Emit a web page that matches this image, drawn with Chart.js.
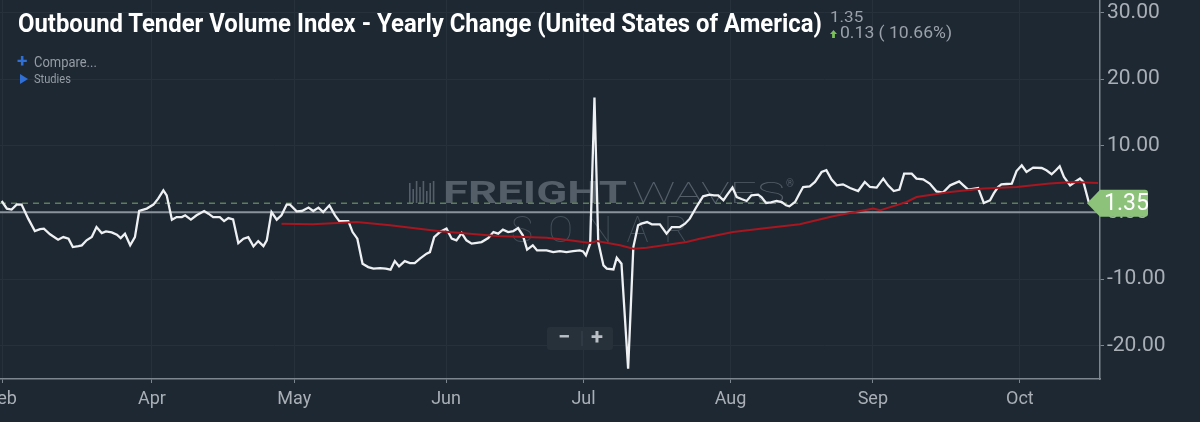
<!DOCTYPE html>
<html>
<head>
<meta charset="utf-8">
<script src="https://cdn.jsdelivr.net/npm/chart.js@4.4.0/dist/chart.umd.min.js"></script>
<style>
  html, body { margin: 0; padding: 0; background: #1d2833; overflow: hidden; }
  #wrap { position: relative; width: 1200px; height: 422px; }
  #wrap canvas { position: absolute; left: 0; top: 0; }
  .txt { position: absolute; white-space: nowrap; transform-origin: 0 0; font-family: Roboto, sans-serif; z-index: 2; }
  #title { left: 18px; top: 9.6px; font-size: 26px; line-height: 26px; font-weight: bold; color: #ffffff; }
  #last { left: 830px; top: 9.7px; font-size: 15px; line-height: 15px; color: #9aa1a8; }
  #chg { left: 840px; top: 25.2px; font-size: 16px; line-height: 16px; color: #9aa1a8; }
  #arrow { position: absolute; left: 830px; top: 30px; width: 7px; height: 8px; background: #7cc05a; z-index: 2;
           clip-path: polygon(50% 0, 100% 50%, 70% 50%, 70% 100%, 30% 100%, 30% 50%, 0 50%); }
  #plus { left: 17px; top: 52px; font-size: 19px; line-height: 18px; font-weight: bold; color: #2f6fd6; }
  #compare { left: 34px; top: 54.7px; font-size: 15px; line-height: 15px; color: #959ca3; }
  #tri { position: absolute; left: 20px; top: 74px; width: 8px; height: 10px; background: #2f6fd6; z-index: 2;
         clip-path: polygon(0 0, 100% 50%, 0 100%); }
  #studies { left: 34px; top: 73.4px; font-size: 12px; line-height: 12px; color: #959ca3; }
</style>
</head>
<body>
<div id="wrap">
  <canvas id="grafico" width="1200" height="422"></canvas>
  <div class="txt" id="title">Outbound Tender Volume Index - Yearly Change (United States of America)</div>
  <div class="txt" id="last"></div>
  <div id="arrow"></div>
  <div class="txt" id="chg"></div>
  <div class="txt" id="plus">+</div>
  <div class="txt" id="compare">Compare...</div>
  <div id="tri"></div>
  <div class="txt" id="studies">Studies</div>
</div>
<script>
// day of year for each reading, and the yearly change (%)
const days = [59.3,60.4,61.4,62.5,63.5,64.9,66.3,67.4,68.2,69.5,
  71.2,72.3,73.4,74.3,75.5,76.2,77.2,78.3,79.3,80.4,
  81.3,82.5,83.6,84.4,85.3,86.4,87.4,88.3,89.9,91.3,
  92.3,93.4,94.1,95.2,96.2,97.3,98.0,99.2,100.4,102.0,
  102.9,103.9,105.3,106.2,107.1,108.1,109.2,110.3,111.3,112.4,
  113.4,114.5,115.2,116.2,117.3,118.3,119.4,120.1,121.5,122.6,
  124.0,125.0,126.1,127.1,128.4,129.6,130.5,132.4,133.3,134.3,
  135.4,136.6,137.7,139.1,140.3,141.3,142.2,143.1,144.3,145.4,
  146.4,147.5,148.9,149.6,150.5,151.7,153.1,154.2,155.2,156.3,
  157.3,158.4,159.5,160.5,161.9,163.0,164.0,165.0,166.1,167.2,
  168.2,169.2,170.1,171.3,172.2,173.2,174.2,175.6,177.0,178.4,
  179.8,181.2,181.9,182.5,183.4,184.3,185.1,186.2,186.9,188.3,
  189.0,190.0,191.4,192.5,193.5,194.2,195.4,196.4,197.3,198.1,
  199.5,200.6,201.5,202.3,203.4,204.4,205.8,207.2,208.6,209.5,
  210.4,211.5,212.2,213.4,214.3,215.3,216.4,217.4,218.8,219.5,
  220.5,221.5,222.7,223.8,224.7,225.4,226.6,227.6,228.3,229.7,
  230.8,232.2,233.2,234.3,235.4,236.7,238.2,239.9,241.3,242.4,
  243.8,245.2,246.2,247.4,248.6,249.6,251.2,252.2,253.6,255.0,
  256.4,257.8,259.3,261.2,262.1,263.1,264.1,265.2,266.4,267.7,
  268.5,269.4,270.1,271.2,272.3,273.3,274.4,275.4,276.8,278.6,
  279.6,280.7,281.6,282.4,283.3,284.6,285.6,286.7,287.4,288.6];
const yoyValues = [1.70,0.56,0.41,1.20,1.16,-0.95,-2.81,-2.51,-2.45,-3.30,
  -4.10,-3.71,-3.95,-5.21,-5.06,-4.95,-4.20,-3.71,-2.21,-3.11,
  -2.85,-3.00,-3.35,-3.86,-3.20,-4.95,-3.71,0.20,0.56,1.16,
  2.06,3.30,2.55,-1.10,-0.71,-0.71,-0.45,-1.10,-0.45,0.20,
  -0.20,-0.71,-0.71,-1.31,-0.86,-1.05,-4.61,-3.95,-3.71,-5.11,
  -4.31,-5.06,-4.20,0.05,-1.10,-0.45,1.16,1.16,0.15,0.20,
  0.71,0.20,0.71,0.05,1.05,-0.45,-1.31,-1.31,-2.96,-3.95,
  -7.70,-8.21,-8.45,-8.36,-8.45,-8.60,-7.31,-8.11,-7.31,-7.61,
  -7.61,-6.95,-6.20,-5.96,-3.71,-2.96,-2.45,-3.95,-4.20,-3.11,
  -4.20,-4.70,-4.58,-4.46,-3.86,-2.96,-3.20,-2.60,-2.96,-2.81,
  -2.36,-3.45,-5.60,-4.95,-5.71,-5.71,-5.71,-5.96,-5.81,-5.96,
  -5.81,-5.71,-5.86,-6.46,-4.70,17.22,-4.46,-7.96,-8.45,-8.56,
  -6.80,-7.70,-23.47,-5.21,-1.95,-1.70,-1.46,-1.80,-1.80,-1.80,
  -3.20,-2.21,-2.21,-2.21,-1.70,-0.95,0.80,2.40,2.66,2.55,
  2.55,1.80,2.55,3.71,2.30,2.00,1.70,2.55,2.66,2.30,
  1.40,1.50,1.70,1.55,1.05,0.90,1.55,2.90,3.80,3.90,
  4.55,6.05,6.31,4.91,4.05,4.20,3.65,3.20,4.55,3.80,
  3.71,5.06,4.05,3.20,3.41,5.81,5.81,5.06,4.95,4.31,
  3.15,2.96,4.05,4.65,4.05,3.41,3.53,3.65,1.40,1.80,
  2.85,3.80,4.20,4.25,4.31,6.20,7.06,6.05,6.71,6.65,
  6.31,5.71,6.31,6.91,5.30,4.05,4.55,5.06,4.55,1.35];

// moving average (red)
const maDays = [118.3,124.9,134.2,141.2,151.7,163.7,174.2,179.1,183.4,184.8,
  189.7,192.5,195.3,203.7,206.5,213.5,220.6,227.6,234.6,243.1,
  244.5,250.1,252.2,259.3,266.3,273.3,280.3,285.3,290.5];
const maValues = [-1.70,-1.80,-1.46,-1.95,-2.85,-3.56,-3.80,-4.20,-4.61,-4.31,
  -4.95,-5.45,-5.30,-4.46,-3.95,-2.96,-2.36,-1.80,-0.60,0.56,
  0.30,1.55,2.30,3.05,3.56,3.80,4.31,4.55,4.40];

const tickDays = [59.4, 91, 121, 153, 182, 213, 243, 274];
const tickLabels = ['Feb', 'Apr', 'May', 'Jun', 'Jul', 'Aug', 'Sep', 'Oct'];
const yTicks = [-20, -10, 0, 10, 20, 30];
const lastValue = 1.35;
const change = 0.13;
const changePct = 10.66;

document.getElementById('last').textContent = lastValue.toFixed(2);
document.getElementById('chg').textContent = change.toFixed(2) + ' ( ' + changePct.toFixed(2) + '%)';

function fit(id, w) {
  const el = document.getElementById(id);
  el.style.transform = 'scaleX(' + (w / el.offsetWidth) + ')';
}
fit('title', 804);
fit('last', 33);
fit('chg', 112);
fit('compare', 63);
fit('studies', 37);

const extras = {
  id: 'extras',
  beforeDatasetsDraw(chart) {
    const ctx = chart.ctx;
    const y = chart.scales.y;
    const a = chart.chartArea;
    ctx.save();
    // watermark
    ctx.fillStyle = '#545e69';
    const bars = [20, 14, 22, 16, 22, 12, 20, 22];
    bars.forEach((h, i) => ctx.fillRect(409 + i * 3.4, 203 - h, 1.6, h));
    ctx.textBaseline = 'alphabetic';
    ctx.font = 'bold 31px Roboto';
    let w = ctx.measureText('FREIGHT').width;
    ctx.save(); ctx.translate(443, 203); ctx.scale(184 / w, 1); ctx.fillText('FREIGHT', 0, 0); ctx.restore();
    ctx.font = '100 30px Roboto';
    w = ctx.measureText('WAVES').width;
    ctx.save(); ctx.translate(632, 203); ctx.scale(153 / w, 1); ctx.fillText('WAVES', 0, 0); ctx.restore();
    ctx.font = '10px Roboto';
    ctx.fillText('®', 786, 187);
    ctx.fillStyle = '#434e59';
    ctx.font = '100 37px Roboto';
    const son = 'SONAR';
    for (let i = 0; i < son.length; i++) {
      const cw = ctx.measureText(son[i]).width;
      ctx.fillText(son[i], 508 + i * 38.5 + (28 - cw) / 2, 242);
    }
    // zero line
    const y0 = y.getPixelForValue(0);
    ctx.strokeStyle = '#8a939b';
    ctx.lineWidth = 2;
    ctx.beginPath(); ctx.moveTo(a.left, y0); ctx.lineTo(a.right, y0); ctx.stroke();
    // last value dashed line
    const yl = y.getPixelForValue(lastValue);
    ctx.strokeStyle = '#5f7d57';
    ctx.lineWidth = 1.5;
    ctx.setLineDash([6, 5]);
    ctx.beginPath(); ctx.moveTo(a.left, yl); ctx.lineTo(a.right, yl); ctx.stroke();
    ctx.restore();
  },
  afterDraw(chart) {
    const ctx = chart.ctx;
    const y = chart.scales.y;
    const a = chart.chartArea;
    ctx.save();
    // zoom buttons
    ctx.fillStyle = '#263139';
    ctx.beginPath(); ctx.roundRect(547, 327, 66, 23, 3); ctx.fill();
    ctx.strokeStyle = '#3a4550'; ctx.lineWidth = 1;
    ctx.beginPath(); ctx.moveTo(582, 331); ctx.lineTo(582, 346); ctx.stroke();
    ctx.fillStyle = '#b9bfc5';
    ctx.font = 'bold 22px Roboto';
    ctx.textAlign = 'center'; ctx.textBaseline = 'middle';
    ctx.fillText('\u2212', 564, 338);
    ctx.fillText('+', 597, 338);
    // last value tag
    const yl = y.getPixelForValue(lastValue);
    const x0 = a.right;
    ctx.fillStyle = '#8cc27a';
    ctx.beginPath();
    ctx.moveTo(x0 - 13, yl);
    ctx.lineTo(x0, yl - 13.5);
    ctx.lineTo(x0 + 45, yl - 13.5);
    ctx.quadraticCurveTo(x0 + 48, yl - 13.5, x0 + 48, yl - 10.5);
    ctx.lineTo(x0 + 48, yl + 10.5);
    ctx.quadraticCurveTo(x0 + 48, yl + 13.5, x0 + 45, yl + 13.5);
    ctx.lineTo(x0, yl + 13.5);
    ctx.closePath();
    ctx.fill();
    ctx.fillStyle = '#ffffff';
    ctx.font = '23px Roboto';
    ctx.textAlign = 'left';
    ctx.fillText(lastValue.toFixed(2), x0 + 4, yl + 1);
    ctx.restore();
  }
};

new Chart(document.getElementById('grafico'), {
  type: 'line',
  data: {
    datasets: [{
      label: 'Moving Average',
      data: maDays.map((d, i) => ({ x: d, y: maValues[i] })),
      borderColor: '#a8161f',
      borderWidth: 2,
      pointRadius: 0,
      tension: 0
    }, {
      label: 'OTVIY',
      data: days.map((d, i) => ({ x: d, y: yoyValues[i] })),
      borderColor: '#eef0f2',
      borderWidth: 2.3,
      pointRadius: 0,
      tension: 0
    }]
  },
  options: {
    responsive: false,
    animation: false,
    devicePixelRatio: 1,
    layout: { padding: 0 },
    plugins: { legend: { display: false }, tooltip: { enabled: false }, title: { display: false } },
    scales: {
      x: {
        type: 'linear',
        min: 58.95,
        max: 290.9,
        afterBuildTicks: (s) => { s.ticks = tickDays.map(v => ({ value: v })); },
        afterFit: (s) => { s.height = 43; s.paddingLeft = 0; s.paddingRight = 0; },
        ticks: {
          autoSkip: false,
          maxRotation: 0,
          padding: 6,
          color: '#a9afb5',
          font: { family: 'Roboto', size: 18 },
          callback: (v) => tickLabels[tickDays.indexOf(v)]
        },
        grid: { color: '#26313c', lineWidth: 1, tickLength: 4, tickColor: '#7d868e' },
        border: { display: true, color: '#7d868e', width: 1.5 }
      },
      y: {
        position: 'right',
        min: -25.0,
        max: 31.85,
        afterBuildTicks: (s) => { s.ticks = yTicks.map(v => ({ value: v })); },
        afterFit: (s) => { s.width = 100; s.paddingTop = 0; s.paddingBottom = 0; },
        ticks: {
          padding: 3,
          color: '#a9afb5',
          font: { family: 'Roboto', size: 21 },
          callback: (v) => v.toFixed(2)
        },
        grid: { color: '#26313c', lineWidth: 1, tickLength: 4, tickColor: '#7d868e' },
        border: { display: true, color: '#7d868e', width: 1.5 }
      }
    }
  },
  plugins: [extras]
});
</script>
</body>
</html>
